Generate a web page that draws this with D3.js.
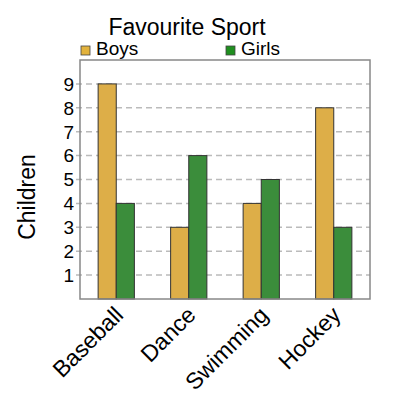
<!DOCTYPE html>
<html>
<head>
<meta charset="utf-8">
<script src="https://cdn.jsdelivr.net/npm/d3@7"></script>
<style>
  body { margin: 0; background: #fff; }
  svg { font-family: "Liberation Sans", Arial, sans-serif; }
</style>
</head>
<body>
<div id="chart"></div>
<script>
// Chart data
const sports = ['Baseball', 'Dance', 'Swimming', 'Hockey'];
const seriesNames = ['Boys', 'Girls'];
const boys = [9, 3, 4, 8];
const girls = [4, 6, 5, 3];
const yTicks = [1, 2, 3, 4, 5, 6, 7, 8, 9];

const barColors = ['#ddae48', '#3b8d3b'];
const legendColors = ['#e2b23c', '#1f8f1f'];

const width = 400, height = 400;
const plot = {left: 80, right: 370, top: 60, bottom: 299};

const svg = d3.select('#chart').append('svg')
    .attr('width', width)
    .attr('height', height);

const x = d3.scaleBand().domain(sports).range([plot.left, plot.right]).paddingInner(0.5).paddingOuter(0.25);
const xSub = d3.scaleBand().domain(seriesNames).range([0, x.bandwidth()]);
const y = d3.scaleLinear().domain([0, 10]).range([plot.bottom, plot.top]);

// dashed gridlines
svg.append('g')
    .selectAll('line')
    .data(yTicks)
    .join('line')
      .attr('x1', plot.left - 4)
      .attr('x2', plot.right)
      .attr('y1', d => y(d))
      .attr('y2', d => y(d))
      .attr('stroke', '#bbb')
      .attr('stroke-width', 1.5)
      .attr('stroke-dasharray', '6,4');

// y tick labels
svg.append('g')
    .selectAll('text')
    .data(yTicks)
    .join('text')
      .attr('x', plot.left - 6)
      .attr('y', d => y(d))
      .attr('dy', '0.36em')
      .attr('text-anchor', 'end')
      .attr('font-size', 19)
      .text(d => d);

// bars
const rows = sports.map((s, i) => ({sport: s, values: [boys[i], girls[i]]}));
svg.append('g')
    .selectAll('g')
    .data(rows)
    .join('g')
      .attr('transform', d => `translate(${x(d.sport)},0)`)
    .selectAll('rect')
    .data(d => d.values.map((v, j) => ({series: seriesNames[j], value: v, j: j})))
    .join('rect')
      .attr('x', d => xSub(d.series))
      .attr('y', d => y(d.value))
      .attr('width', xSub.bandwidth())
      .attr('height', d => y(0) - y(d.value))
      .attr('fill', d => barColors[d.j])
      .attr('stroke', '#333')
      .attr('stroke-width', 1);

// plot frame
svg.append('rect')
    .attr('x', plot.left)
    .attr('y', plot.top)
    .attr('width', plot.right - plot.left)
    .attr('height', plot.bottom - plot.top)
    .attr('fill', 'none')
    .attr('stroke', '#888')
    .attr('stroke-width', 1.5);

// x labels, rotated
svg.append('g')
    .selectAll('text')
    .data(sports)
    .join('text')
      .attr('transform', d => `translate(${x(d) + x.bandwidth() / 2 - 3},${plot.bottom + 6}) rotate(-45)`)
      .attr('text-anchor', 'end')
      .attr('dy', '0.7em')
      .attr('font-size', 23)
      .text(d => d);

// y axis title
svg.append('text')
    .attr('transform', `translate(35,197) rotate(-90)`)
    .attr('text-anchor', 'middle')
    .attr('font-size', 23)
    .text('Children');

// title
svg.append('text')
    .attr('x', 187)
    .attr('y', 35)
    .attr('text-anchor', 'middle')
    .attr('font-size', 23)
    .text('Favourite Sport');

// legend
const legendX = [81, 226];
const legend = svg.append('g')
    .selectAll('g')
    .data(seriesNames)
    .join('g')
      .attr('transform', (d, i) => `translate(${legendX[i]},46)`);
legend.append('rect')
    .attr('width', 9)
    .attr('height', 9)
    .attr('fill', (d, i) => legendColors[i])
    .attr('stroke', '#444')
    .attr('stroke-width', 0.8);
legend.append('text')
    .attr('x', 15)
    .attr('y', 9)
    .attr('font-size', 19)
    .text(d => d);
</script>
</body>
</html>
